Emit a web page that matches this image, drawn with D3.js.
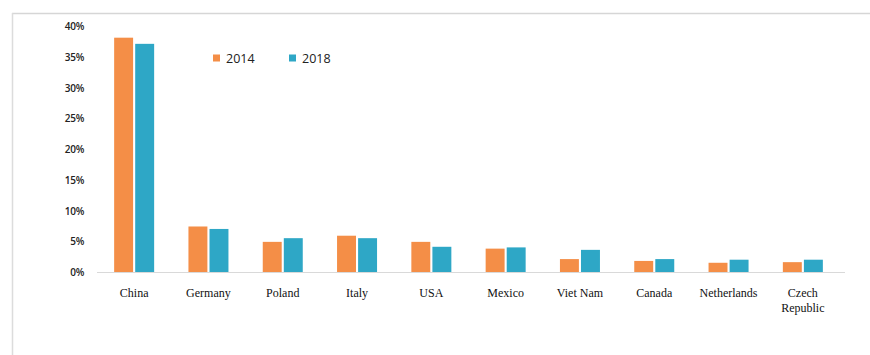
<!DOCTYPE html>
<html>
<head>
<meta charset="utf-8">
<script src="https://cdn.jsdelivr.net/npm/d3@7"></script>
<style>
  body { margin: 0; background: #fff; }
  .ytick text { font-family: "Open Sans", sans-serif; font-size: 10px; fill: #222; font-weight: 600; letter-spacing: -0.3px; }
  .xtick text { font-family: "Liberation Serif", serif; font-size: 12px; fill: #111; }
  .legend text { font-family: "Open Sans", sans-serif; font-size: 12.5px; fill: #222; }
</style>
</head>
<body>
<div id="chart"></div>
<script>
// Data
const countries = ["China", "Germany", "Poland", "Italy", "USA", "Mexico", "Viet Nam", "Canada", "Netherlands", "Czech Republic"];
const years = ["2014", "2018"];
const share2014 = [38.1, 7.4, 4.9, 5.9, 4.9, 3.8, 2.1, 1.8, 1.5, 1.6];
const share2018 = [37.1, 7.0, 5.5, 5.5, 4.1, 4.0, 3.6, 2.1, 2.0, 2.0];
const yTicks = [0, 5, 10, 15, 20, 25, 30, 35, 40];

const colors = { "2014": "#F48E47", "2018": "#2EA7C6" };

// Dimensions
const dimensions = { width: 870, height: 355 };
const plot = { left: 97, right: 840, top: 26, bottom: 272 };

const svg = d3.select("#chart")
  .append("svg")
  .attr("width", dimensions.width)
  .attr("height", dimensions.height);

// frame
svg.append("line").attr("x1", 12).attr("x2", 870).attr("y1", 13.5).attr("y2", 13.5)
  .attr("stroke", "#d6d6d6").attr("stroke-width", 1.5);
svg.append("line").attr("x1", 12.5).attr("x2", 12.5).attr("y1", 13).attr("y2", 355)
  .attr("stroke", "#dcdcdc").attr("stroke-width", 1.5);

// Scales
const xScale = d3.scaleBand().domain(countries).range([plot.left, plot.right]);
const xInner = d3.scaleBand().domain(years).range([0, 40]).paddingInner(0.1);
const yScale = d3.scaleLinear().domain([0, 40]).range([plot.bottom, plot.top]);

// Bars
const rows = countries.map((c, i) => ({ country: c, values: [
  { year: "2014", value: share2014[i] },
  { year: "2018", value: share2018[i] }
]}));

const groups = svg.append("g").selectAll("g")
  .data(rows)
  .join("g")
  .attr("transform", d => `translate(${xScale(d.country) + xScale.bandwidth() / 2 - 20},0)`);

groups.selectAll("rect")
  .data(d => d.values)
  .join("rect")
  .attr("x", d => xInner(d.year))
  .attr("width", xInner.bandwidth())
  .attr("y", d => yScale(d.value))
  .attr("height", d => yScale(0) - yScale(d.value))
  .attr("fill", d => colors[d.year]);

// baseline
svg.append("line")
  .attr("x1", plot.left).attr("x2", 845)
  .attr("y1", yScale(0) + 0.5).attr("y2", yScale(0) + 0.5)
  .attr("stroke", "#d9d9d9");

// Y axis
const yAxis = svg.append("g")
  .attr("class", "ytick")
  .attr("transform", `translate(84,0)`)
  .call(d3.axisLeft(yScale).tickValues(yTicks).tickSize(0).tickPadding(0).tickFormat(d => d + "%"));
yAxis.select(".domain").remove();
yAxis.selectAll("text").attr("dy", "0.35em");

// X axis
const xAxis = svg.append("g")
  .attr("class", "xtick")
  .attr("transform", `translate(0,${plot.bottom})`)
  .call(d3.axisBottom(xScale).tickSize(0).tickPadding(16));
xAxis.select(".domain").remove();
xAxis.selectAll("text").each(function (d) {
  const words = d.split(" ");
  if (d === "Czech Republic") {
    const t = d3.select(this).text(null);
    words.forEach((w, i) => {
      t.append("tspan").attr("x", 0).attr("dy", i === 0 ? "0.71em" : "1.25em").text(w);
    });
  }
});

// Legend
const legend = svg.append("g").attr("class", "legend").attr("transform", "translate(213,58)");
const legendX = d3.scalePoint().domain(years).range([0, 76]);
const items = legend.selectAll("g").data(years).join("g")
  .attr("transform", d => `translate(${legendX(d)},0)`);
items.append("rect").attr("x", 0).attr("y", -3.5).attr("width", 7).attr("height", 7)
  .attr("fill", d => colors[d]);
items.append("text").attr("x", 13).attr("dy", "0.36em").text(d => d);
</script>
</body>
</html>
